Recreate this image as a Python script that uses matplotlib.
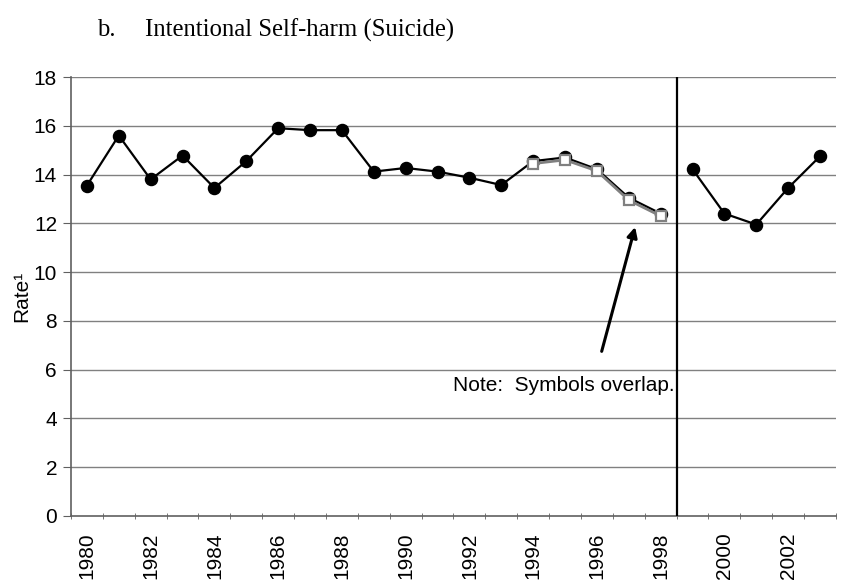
import matplotlib
matplotlib.use("Agg")
import matplotlib.pyplot as plt
import numpy as np

years_a = [1980, 1981, 1982, 1983, 1984, 1985, 1986, 1987, 1988, 1989,
           1990, 1991, 1992, 1993, 1994, 1995, 1996, 1997, 1998]
rates_a = [13.55, 15.6, 13.8, 14.78, 13.45, 14.55, 15.9, 15.82, 15.82, 14.12,
           14.27, 14.12, 13.87, 13.57, 14.55, 14.7, 14.22, 13.05, 12.4]
years_b = [1999, 2000, 2001, 2002, 2003]
rates_b = [14.22, 12.4, 11.95, 13.45, 14.75]
years_c = [1994, 1995, 1996, 1997, 1998]
rates_c = [14.45, 14.6, 14.15, 12.95, 12.3]
yticks = [0, 2, 4, 6, 8, 10, 12, 14, 16, 18]
xlabels = [1980, 1982, 1984, 1986, 1988, 1990, 1992, 1994, 1996, 1998, 2000, 2002]

plt.rcParams['font.family'] = ['Liberation Sans', 'DejaVu Sans']
fig = plt.figure(figsize=(8.41, 5.86), dpi=100)
ax = fig.add_axes([0.0844, 0.1195, 0.9096, 0.7491])

ax.set_xlim(1979.5, 2003.5)
ax.set_ylim(0, 18)
for y in yticks[1:]:
    ax.axhline(y, color='#808080', lw=1.0, zorder=1)

ax.plot(years_a, rates_a, color='black', lw=1.6, marker='o', ms=8.7,
        mfc='black', mec='black', zorder=3)
ax.plot(years_b, rates_b, color='black', lw=1.6, marker='o', ms=8.7,
        mfc='black', mec='black', zorder=3)
ax.plot(years_c, rates_c, color='#808080', lw=2.0, marker='s', ms=7.8,
        mfc='white', mec='#808080', mew=1.6, zorder=4)

ax.axvline(1998.5, color='black', lw=1.6, zorder=5)

ax.annotate('', xy=(1997.2, 11.85), xytext=(1996.15, 6.75),
            arrowprops=dict(arrowstyle='-|>', color='black', lw=2.2,
                            mutation_scale=15, shrinkA=0, shrinkB=0), zorder=6)
ax.text(1998.43, 5.37, 'Note:  Symbols overlap.', ha='right', va='center',
        fontsize=15, zorder=6)

ax.set_yticks(yticks)
ax.set_yticklabels([str(v) for v in yticks], fontsize=15)
ax.set_xticks(xlabels)
ax.set_xticklabels([str(v) for v in xlabels], rotation=90, fontsize=15)
ax.set_xticks(np.arange(1979.5, 2004.0, 1.0), minor=True)
ax.tick_params(axis='x', which='major', length=0, pad=12)
ax.tick_params(axis='x', which='minor', length=5, direction='inout', color='#606060')
ax.tick_params(axis='y', length=6, color='#606060', pad=4)

for s in ['top', 'right']:
    ax.spines[s].set_visible(False)
for s in ['left', 'bottom']:
    ax.spines[s].set_color('#606060')
    ax.spines[s].set_linewidth(1.2)

ax.set_ylabel('Rate\u00b9', fontsize=15, labelpad=2)

fig.text(97 / 841, 1 - 30 / 586, 'b.',
         family=['Liberation Serif', 'DejaVu Serif'], fontsize=17.8,
         ha='left', va='center')
fig.text(145 / 841, 1 - 30 / 586, 'Intentional Self-harm (Suicide)',
         family=['Liberation Serif', 'DejaVu Serif'], fontsize=17.8,
         ha='left', va='center')

fig.savefig('out.png', dpi=100)
